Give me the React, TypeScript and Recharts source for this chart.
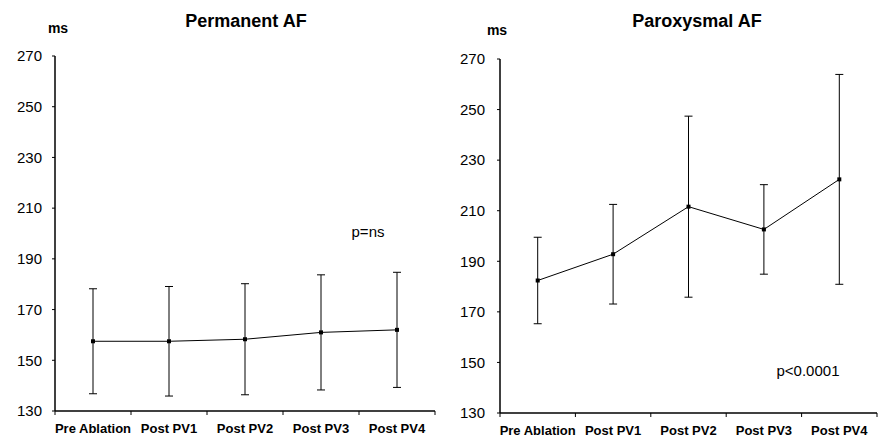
import * as React from 'react'
import { LineChart, Line, XAxis, YAxis, ErrorBar } from 'recharts'

const categories = ['Pre Ablation', 'Post PV1', 'Post PV2', 'Post PV3', 'Post PV4']
const yTicks = [130, 150, 170, 190, 210, 230, 250, 270]
const xTicks = [0, 0.5, 1, 1.5, 2, 2.5, 3, 3.5, 4, 4.5, 5]

// permanent AF: mean and SD (ms)
const permMean = [157.5, 157.5, 158.3, 161.0, 162.0]
const permSd = [20.7, 21.6, 21.9, 22.7, 22.7]

// paroxysmal AF: mean and SD (ms)
const paroxMean = [182.4, 192.8, 211.6, 202.6, 222.4]
const paroxSd = [17.1, 19.7, 35.8, 17.7, 41.5]

const FONT = 'Arial, "Liberation Sans", sans-serif'

const toRows = (mean: number[], sd: number[]) =>
  categories.map((name, i) => ({ name, x: i + 0.5, mean: mean[i], sd: sd[i] }))

// integer ticks = band boundaries (tick mark), half ticks = category label
const XTick = (props: any) => {
  const { x, y, payload } = props
  const v = payload.value as number
  if (Number.isInteger(v)) {
    return <line x1={x} y1={y} x2={x} y2={y + 4} stroke="#000" strokeWidth={1} />
  }
  return (
    <text x={x} y={y + 22} textAnchor="middle" fontSize={13} fontWeight="bold" fill="#000" fontFamily={FONT}>
      {categories[Math.floor(v)]}
    </text>
  )
}

const SquareDot = (props: any) => {
  const { cx, cy, index } = props
  return <rect key={`d${index}`} x={cx - 2} y={cy - 2} width={4} height={4} fill="#000" />
}

interface PanelProps {
  mean: number[]
  sd: number[]
  left: number
  marginTop: number
  yAxisWidth: number
  tickMargin: number
  xAxisHeight: number
}

function Panel({ mean, sd, left, marginTop, yAxisWidth, tickMargin, xAxisHeight }: PanelProps) {
  const data = toRows(mean, sd)
  return (
    <div style={{ position: 'absolute', left, top: 0 }}>
      <LineChart width={442} height={439} data={data} margin={{ top: marginTop, right: 7, left: 0, bottom: 0 }}>
        <XAxis
          dataKey="x"
          type="number"
          domain={[0, 5]}
          ticks={xTicks}
          interval={0}
          tick={<XTick />}
          tickLine={false}
          tickSize={0}
          tickMargin={0}
          height={xAxisHeight}
          axisLine={{ stroke: '#000', strokeWidth: 1.5 }}
        />
        <YAxis
          type="number"
          domain={[130, 270]}
          ticks={yTicks}
          interval={0}
          width={yAxisWidth}
          tickSize={3}
          tickMargin={tickMargin}
          tick={{ fontSize: 15, fill: '#000', fontFamily: FONT }}
          tickLine={{ stroke: '#000' }}
          axisLine={{ stroke: '#000', strokeWidth: 1.5 }}
        />
        <Line
          type="linear"
          dataKey="mean"
          stroke="#000"
          strokeWidth={1}
          dot={<SquareDot />}
          activeDot={false}
          isAnimationActive={false}
        >
          <ErrorBar dataKey="sd" direction="y" width={4} stroke="#000" strokeWidth={1} />
        </Line>
      </LineChart>
    </div>
  )
}

const Txt = ({ x, y, size, bold, children }: any) => (
  <div
    style={{
      position: 'absolute',
      left: x,
      top: y,
      transform: 'translate(-50%, -50%)',
      fontFamily: FONT,
      fontSize: size,
      fontWeight: bold ? 'bold' : 'normal',
      whiteSpace: 'nowrap',
      color: '#000',
    }}
  >
    {children}
  </div>
)

export default function App() {
  return (
    <div style={{ position: 'absolute', left: 0, top: 0, width: 884, height: 439, background: '#fff', overflow: 'hidden' }}>
      <Panel mean={permMean} sd={permSd} left={0} marginTop={56} yAxisWidth={55} tickMargin={10} xAxisHeight={28} />
      <Panel mean={paroxMean} sd={paroxSd} left={442} marginTop={59} yAxisWidth={58} tickMargin={12} xAxisHeight={26} />
      <Txt x={246} y={21} size={18} bold>Permanent AF</Txt>
      <Txt x={697} y={21} size={18} bold>Paroxysmal AF</Txt>
      <Txt x={58} y={28} size={14} bold>ms</Txt>
      <Txt x={497} y={30} size={14} bold>ms</Txt>
      <Txt x={368} y={231} size={15}>p=ns</Txt>
      <Txt x={808} y={370} size={15}>p&lt;0.0001</Txt>
    </div>
  )
}
